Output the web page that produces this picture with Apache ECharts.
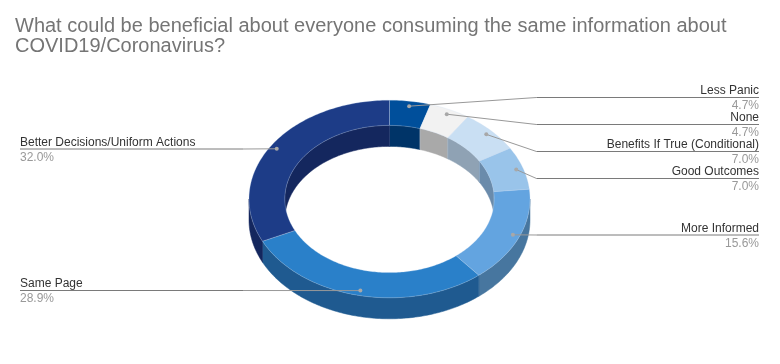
<!DOCTYPE html>
<html>
<head>
<meta charset="utf-8">
<style>html,body{margin:0;padding:0;background:#fff}#c{width:780px;height:364px}</style>
<script src="https://cdn.jsdelivr.net/npm/echarts@6/dist/echarts.min.js"></script>
</head>
<body>
<div id="c"></div>
<script>
const titleText = 'What could be beneficial about everyone consuming the same information about\nCOVID19/Coronavirus?';
const categories = ['Less Panic','None','Benefits If True (Conditional)','Good Outcomes','More Informed','Same Page','Better Decisions/Uniform Actions'];
const shares = [4.7,4.7,7.0,7.0,15.6,28.9,32.0];
const topColors = ['#004f9b','#f2f2f2','#c9dff3','#99c4ea','#63a4e0','#2a80c9','#1d3c87'];
const wallColors = ['#003468','#a9a9a9','#8fa2b4','#6a8bab','#47769f','#1f5a90','#14275e'];
const labelLineY = [97.5,124.5,151.5,178.5,235,290.5,149];

const CX=389.5, CY=199, A=140.5, B=98.8, HOLE=0.745, DEPTH=21, DOT=0.95;
const total = shares.reduce((a,b)=>a+b,0);
const starts=[]; shares.reduce((s,v,i)=>{starts[i]=s;return s+v;},0);
const ang = p => p/total*360;
const pt = (deg,r,dy) => {const t=deg*Math.PI/180;return [CX+A*r*Math.sin(t),CY-B*r*Math.cos(t)+(dy||0)];};
function arc(a0,a1,r,dy){const n=Math.max(2,Math.ceil(Math.abs(a1-a0)));const o=[];for(let k=0;k<=n;k++)o.push(pt(a0+(a1-a0)*k/n,r,dy));return o;}
const itemRange = i => [ang(starts[i]),ang(starts[i]+shares[i])];

function renderWalls(params,api){
  const i=api.value(1), [a0,a1]=itemRange(i), kids=[];
  const o0=Math.max(a0,90), o1=Math.min(a1,270);
  if(o1>o0) kids.push({type:'polygon',shape:{points:arc(o0,o1,1,0).concat(arc(o1,o0,1,DEPTH))},
    style:{fill:wallColors[i],stroke:wallColors[i],lineWidth:0.5}});
  [[Math.max(a0,270),a1],[a0,Math.min(a1,90)]].forEach(([s,e])=>{
    if(e>s) kids.push({type:'polygon',shape:{points:arc(s,e,HOLE,0).concat(arc(e,s,HOLE,DEPTH))},
      style:{fill:wallColors[i],stroke:wallColors[i],lineWidth:0.5}});
  });
  if(a0<90||a0>=270) kids.push({type:'line',shape:{x1:pt(a0,HOLE)[0],y1:pt(a0,HOLE)[1],x2:pt(a0,HOLE,DEPTH)[0],y2:pt(a0,HOLE,DEPTH)[1]},
    style:{stroke:'rgba(190,210,235,0.5)',lineWidth:0.6}});
  return {type:'group',children:kids};
}
function renderTop(params,api){
  const i=api.value(1), [a0,a1]=itemRange(i);
  return {type:'polygon',shape:{points:arc(a0,a1,1,0).concat(arc(a1,a0,HOLE,0))},
    style:{fill:topColors[i],stroke:'rgba(200,220,240,0.55)',lineWidth:0.5}};
}
function renderLabels(params,api){
  const i=api.value(1), [a0,a1]=itemRange(i), mid=(a0+a1)/2, d=pt(mid,DOT);
  const right=i<5;
  const ly=labelLineY[i];
  const xEnd=right?759:20, xElbow=right?536.5:243;
  const font='12px "Liberation Sans", Arial, sans-serif';
  const pct=shares[i].toFixed(1)+'%';
  return {type:'group',children:[
    {type:'polyline',shape:{points:[d,[xElbow,ly]]},style:{fill:'none',stroke:'#999999',lineWidth:1}},
    {type:'line',shape:{x1:xElbow,y1:ly,x2:xEnd,y2:ly},style:{stroke:'#7a7a7a',lineWidth:1}},
    {type:'circle',shape:{cx:d[0],cy:d[1],r:2},style:{fill:'#a8a8a8'}},
    {type:'text',style:{text:categories[i],x:xEnd,y:ly-0.5,align:right?'right':'left',verticalAlign:'bottom',fill:'#333333',font}},
    {type:'text',style:{text:pct,x:xEnd,y:ly+2.5,align:right?'right':'left',verticalAlign:'top',fill:'#999999',font}}
  ]};
}
const rows = shares.map((v,i)=>[v,i]);
const common = {type:'custom',coordinateSystem:'none',data:rows,silent:true,animation:false,clip:false};
const chart = echarts.init(document.getElementById('c'),null,{renderer:'canvas'});
chart.setOption({
  animation:false,
  backgroundColor:'#ffffff',
  title:{text:titleText,left:15,top:16,padding:0,textStyle:{fontFamily:'"Liberation Sans", Arial, sans-serif',fontSize:20,fontWeight:'normal',color:'#757575',lineHeight:20}},
  series:[
    Object.assign({},common,{name:'walls',z:1,renderItem:renderWalls}),
    Object.assign({},common,{name:'top',z:2,renderItem:renderTop}),
    Object.assign({},common,{name:'labels',z:3,renderItem:renderLabels})
  ]
});
</script>
</body>
</html>
